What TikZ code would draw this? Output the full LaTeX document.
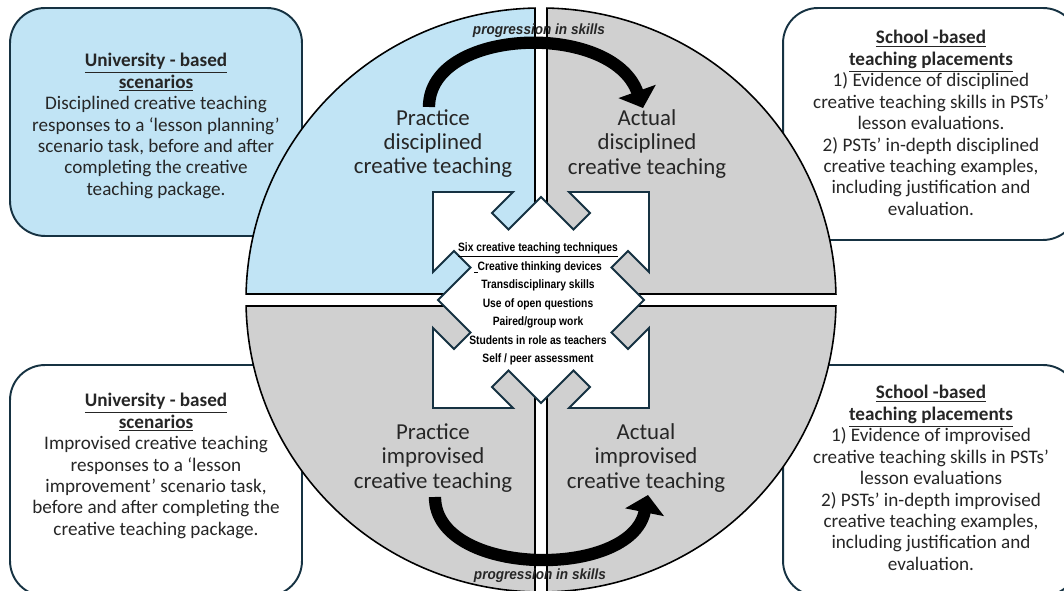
\documentclass[tikz,border=0pt]{standalone}
\usepackage{fontspec}
\setmainfont{Carlito}
\newfontfamily\narrowsans[FakeStretch=0.85]{Liberation Sans}
\newfontfamily\skillsans[FakeStretch=0.92]{Liberation Sans}
\usetikzlibrary{calc,arrows.meta}

\definecolor{qblue}{RGB}{193,228,245}
\definecolor{qgray}{RGB}{208,208,208}
\definecolor{edge}{RGB}{22,50,66}
\definecolor{ink}{RGB}{38,38,38}
\newcommand{\boxtitle}[1]{\textbf{\underline{#1}}}

\begin{document}
\begin{tikzpicture}[x=0.02cm, y=0.02cm,
    box/.style={draw=edge, line width=1.1pt, rounded corners=0.7cm, inner sep=0pt},
    boxtext/.style={align=center, text=ink, font=\fontsize{10.9}{12.2}\selectfont},
    quad/.style={draw=black, line width=0.9pt},
    quadtext/.style={align=center, text=ink, font=\fontsize{13}{13.7}\selectfont},
    skills/.style={text=ink, font=\skillsans\bfseries\itshape\fontsize{8.4}{9}\selectfont},
    skillarrow/.style={line width=7pt, draw=black, -{Triangle[width=22pt, length=10pt]}},
]
    \useasboundingbox (0,0) rectangle (1064,591);
    \clip (0,0) rectangle (1064,591);

    % outer boxes
    \node[box, fill=qblue, minimum width=5.84cm, minimum height=4.56cm] (uniTop) at (156,469) {};
    \node[box, fill=white, minimum width=5.9cm, minimum height=4.64cm] (schoolTop) at (930.5,467) {};
    \node[box, fill=white, minimum width=5.84cm, minimum height=4.62cm] (uniBot) at (156,110.5) {};
    \node[box, fill=white, minimum width=5.9cm, minimum height=4.62cm] (schoolBot) at (930.5,110.5) {};

    % circle split in four
    \coordinate (O) at (541,291);
    \def\rx{295} \def\ry{292} \def\gap{6}
    \pgfmathsetmacro\ax{acos(\gap/\rx)}
    \pgfmathsetmacro\ay{asin(\gap/\ry)}
    \pgfmathsetmacro\hy{\ry*sin(\ax)}
    \pgfmathsetmacro\hx{\rx*cos(\ay)}
    \filldraw[quad, fill=qgray] ($(O)+(\gap,\gap)$) -- ($(O)+(\gap,\hy)$)
        arc[start angle=\ax, end angle=\ay, x radius=\rx, y radius=\ry] -- cycle;
    \filldraw[quad, fill=qblue] ($(O)+(-\gap,\gap)$) -- ($(O)+(-\gap,\hy)$)
        arc[start angle=180-\ax, end angle=180-\ay, x radius=\rx, y radius=\ry] -- cycle;
    \filldraw[quad, fill=qgray] ($(O)+(-\gap,-\gap)$) -- ($(O)+(-\hx,-\gap)$)
        arc[start angle=180+\ay, end angle=180+\ax, x radius=\rx, y radius=\ry] -- cycle;
    \filldraw[quad, fill=qgray] ($(O)+(\gap,-\gap)$) -- ($(O)+(\gap,-\hy)$)
        arc[start angle=360-\ax, end angle=360-\ay, x radius=\rx, y radius=\ry] -- cycle;

    % notched centre piece
    \begin{scope}[shift={(O)}]
        \filldraw[draw=edge, line width=1.1pt, fill=white]
            (-108,108) -- (-28,108) -- (-49,87) -- (-32.5,70.5) -- (0,103) -- (32.5,70.5) -- (49,87) -- (28,108)
         -- (108,108) -- (108,28) -- (87,49) -- (70.5,32.5) -- (103,0) -- (70.5,-32.5) -- (87,-49) -- (108,-28)
         -- (108,-108) -- (28,-108) -- (49,-87) -- (32.5,-70.5) -- (0,-103) -- (-32.5,-70.5) -- (-49,-87) -- (-28,-108)
         -- (-108,-108) -- (-108,-28) -- (-87,-49) -- (-70.5,-32.5) -- (-103,0) -- (-70.5,32.5) -- (-87,49) -- (-108,28)
         -- cycle;
    \end{scope}

    % progression arrows
    \coordinate (topTail) at (429,484);
    \coordinate (topHead) at (643,483);
    \coordinate (botTail) at (435,94);
    \coordinate (botHead) at (648,96);
    \draw[skillarrow] (topTail) .. controls +(0,80) and +(-31,87) .. (topHead);
    \draw[skillarrow] (botTail) .. controls +(0,-80) and +(-17,-85) .. (botHead);
    \node[skills] (skillsTop) at (539,560) {progression in skills};
    \node[skills] (skillsBot) at (540,15) {progression in skills};

    % quadrant labels
    \node[quadtext] (practiceD) at (433,447) {Practice\\ disciplined\\ creative teaching};
    \node[quadtext] (actualD) at (647,447) {Actual\\ disciplined\\ creative teaching};
    \node[quadtext] (practiceI) at (433,133) {Practice\\ improvised\\ creative teaching};
    \node[quadtext] (actualI) at (646,133) {Actual\\ improvised\\ creative teaching};

    \node[align=center, text=black, font=\narrowsans\bfseries\fontsize{6.9}{10.5}\selectfont] (techniques) at (538,287)
        {\underline{Six creative teaching techniques}\\ \underline{\hspace{2pt}}Creative thinking devices\\
         Transdisciplinary skills\\ Use of open questions\\ Paired/group work\\
         Students in role as teachers\\ Self / peer assessment};

    % box texts
    \node[boxtext] (uniTopText) at (156,465) {\boxtitle{University - based}\\ \boxtitle{scenarios}\\
        Disciplined creative teaching\\ responses to a ‘lesson planning’\\ scenario task, before and after\\
        completing the creative\\ teaching package.};
    \node[boxtext] (schoolTopText) at (931,468) {\boxtitle{School -based}\\ \boxtitle{teaching placements}\\
        1) Evidence of disciplined\\ creative teaching skills in PSTs’\\ lesson evaluations.\\
        2) PSTs’ in-depth disciplined\\ creative teaching examples,\\ including justification and\\ evaluation.};
    \node[boxtext] (uniBotText) at (156,125) {\boxtitle{University - based}\\ \boxtitle{scenarios}\\
        Improvised creative teaching\\ responses to a ‘lesson\\ improvement’ scenario task,\\
        before and after completing the\\ creative teaching package.};
    \node[boxtext] (schoolBotText) at (931,113) {\boxtitle{School -based}\\ \boxtitle{teaching placements}\\
        1) Evidence of improvised\\ creative teaching skills in PSTs’\\ lesson evaluations\\
        2) PSTs’ in-depth improvised\\ creative teaching examples,\\ including justification and\\ evaluation.};
\end{tikzpicture}
\end{document}
